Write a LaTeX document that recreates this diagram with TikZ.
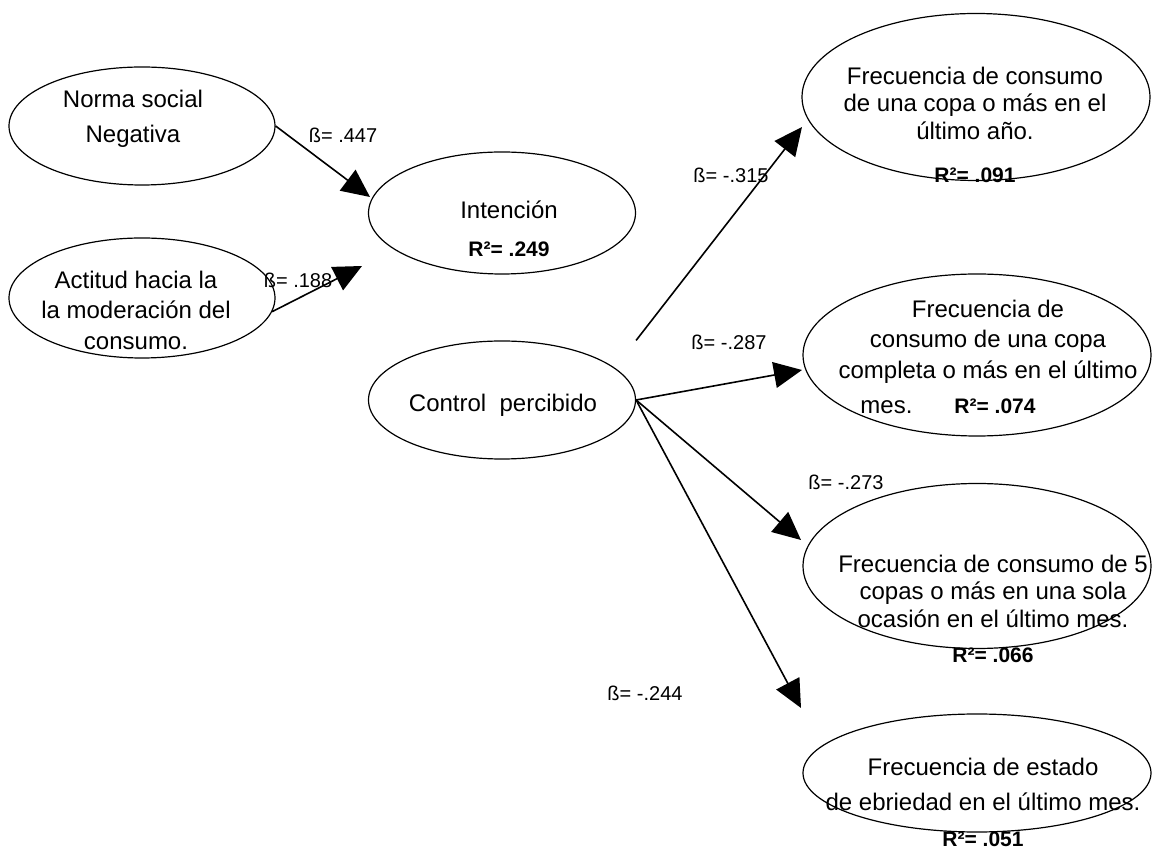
\documentclass[tikz,border=0pt]{standalone}
\usepackage{fontspec}
\setmainfont{Liberation Sans}
\usetikzlibrary{arrows.meta, shapes.geometric}
\newcommand\rsq[1]{{\fontsize{10.5}{12}\selectfont\textbf{R²= #1}}}

\begin{document}
\begin{tikzpicture}[x=0.5pt, y=-0.5pt,
  latent/.style={draw, ellipse, line width=0.6pt, inner sep=0pt},
  txt/.style={align=center, inner sep=0pt, font=\fontsize{12}{13.75}\selectfont},
  coef/.style={inner sep=0pt, font=\fontsize{10}{12}\selectfont},
  link/.style={line width=0.8pt, -{Triangle[length=14pt, width=13pt]}}]
  \useasboundingbox (0,0) rectangle (1152,849);

  % Left side: predictors of the intention
  \node[latent, minimum width=133pt, minimum height=59pt] (norma) at (142,126) {};
  \node[latent, minimum width=133pt, minimum height=60pt] (actitud) at (142,298) {};
  \node[latent, minimum width=133.5pt, minimum height=61pt] (intencion) at (502,213) {};
  \node[latent, minimum width=133.5pt, minimum height=59pt] (control) at (502,400) {};

  \node[txt] (normatxt) at (133,119) {Norma social\\[4pt]Negativa};
  \node[txt] (actitudtxt) at (136,310) {Actitud hacia la\\[1.5pt]la moderación del\\[1.5pt]consumo.};
  \node[txt] (intenciontxt) at (509,229) {Intención\\[5.5pt]\rsq{.249}};
  \node[txt] (controltxt) at (503,405) {Control\ \ percibido};

  % Right side: consumption outcomes
  \node[latent, minimum width=174pt, minimum height=83.5pt] (frec1) at (976,97) {};
  \node[latent, minimum width=174pt, minimum height=81pt] (frec2) at (977,355) {};
  \node[latent, minimum width=174pt, minimum height=82.5pt] (frec3) at (977,566) {};
  \node[latent, minimum width=174pt, minimum height=59pt] (frec4) at (977,773) {};

  \node[txt] (frec1txt) at (975,125) {Frecuencia de consumo\\de una copa o más en el\\último año.\\[8pt]\rsq{.091}};
  \node[txt] (frec2txt) at (988,357) {Frecuencia de\\[1.5pt]consumo de una copa\\[1.5pt]completa o más en el último\\[4pt]mes.\hspace{21pt}\rsq{.074}\hspace{40pt}\null};
  \node[txt] (frec3txt) at (993,609) {Frecuencia de consumo de 5\\copas o más en una sola\\ocasión en el último mes.\\[4pt]\rsq{.066}};
  \node[txt] (frec4txt) at (983,802) {Frecuencia de estado\\[4pt]de ebriedad en el último mes.\\[4pt]\rsq{.051}};

  % Arrow tips
  \coordinate (tipint1) at (370,197);
  \coordinate (tipint2) at (362,266);
  \coordinate (tipf1) at (802,127);
  \coordinate (tipf2) at (802,370);
  \coordinate (tipf3) at (801,540);
  \coordinate (tipf4) at (801,708);

  \draw[link] (norma.east) -- (tipint1);
  \draw[link] (actitud.-6) -- (tipint2);
  \draw[link] (control.north -| control.east) -- (tipf1);
  \draw[link] (control.east) -- (tipf2);
  \draw[link] (control.east) -- (tipf3);
  \draw[link] (control.east) -- (tipf4);

  % Path coefficients
  \node[coef] (b1) at (343,135) {ß= .447};
  \node[coef] (b2) at (298,280) {ß= .188};
  \node[coef] (b3) at (731,175) {ß= -.315};
  \node[coef] (b4) at (729,342) {ß= -.287};
  \node[coef] (b5) at (846,482) {ß= -.273};
  \node[coef] (b6) at (645,693) {ß= -.244};
\end{tikzpicture}
\end{document}
